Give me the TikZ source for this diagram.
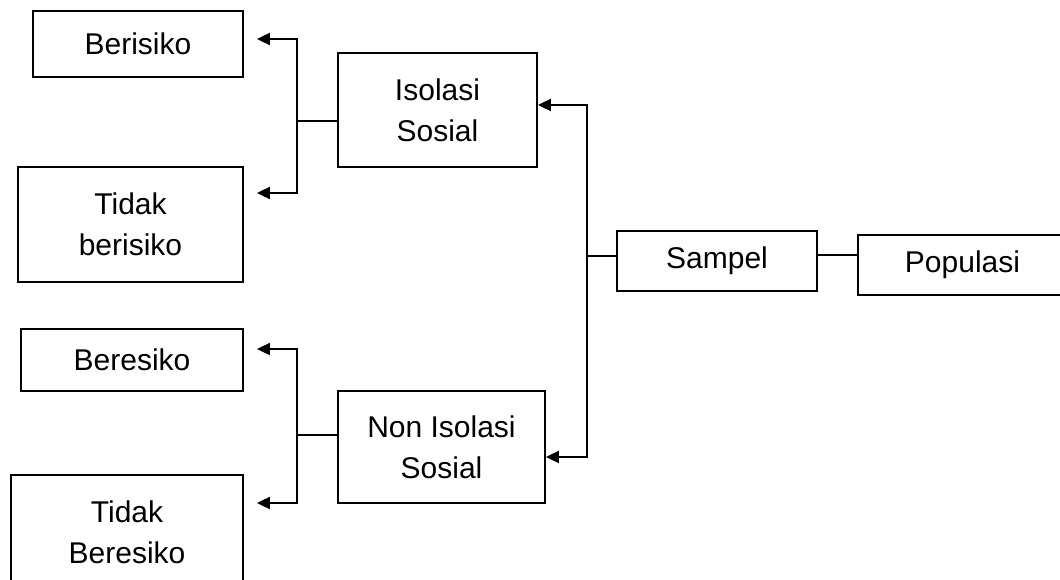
\documentclass[tikz,border=0pt]{standalone}
\usepackage{fontspec}
\setmainfont{Liberation Sans}
\usetikzlibrary{arrows.meta}

\begin{document}
\begin{tikzpicture}[x=1pt,y=-1pt,
  box/.style={draw, line width=1.8pt, rectangle, inner sep=0pt, align=center,
              font=\fontsize{30}{41}\selectfont},
  link/.style={line width=1.8pt},
  arr/.style={line width=1.8pt, -{Triangle[length=13pt,width=12pt]}},
  gaparr/.style={arr, shorten >=13pt}]
  \clip (0,0) rectangle (1060,580);

  % outcome boxes
  \node[box, minimum width=210pt, minimum height=66pt]  (ber1) at (138,44)    {Berisiko};
  \node[box, minimum width=225pt, minimum height=115pt] (tb1)  at (130.5,224.5) {Tidak\\berisiko};
  \node[box, minimum width=222pt, minimum height=62pt]  (ber2) at (132,360)   {Beresiko};
  \node[box, minimum width=232pt, minimum height=114pt] (tb2)  at (127,532)   {Tidak\\Beresiko};

  % groups
  \node[box, minimum width=199pt, minimum height=114pt] (iso)  at (437.5,110) {Isolasi\\Sosial};
  \node[box, minimum width=207pt, minimum height=112pt] (non)  at (441.5,447) {Non Isolasi\\Sosial};

  % sample and population
  \node[box, minimum width=200pt, minimum height=60pt]  (samp) at (717,261)   {Sampel};
  \node[box, minimum width=209pt, minimum height=60pt]  (pop)  at (962.5,265) {Populasi};

  % junction points
  \coordinate (jr)  at (587,256);
  \coordinate (jl1) at (297,121);
  \coordinate (jl2) at (297,435);

  % population -- sample
  \draw[link] ([yshift=6pt]samp.east) -- ([yshift=6pt]samp.east -| pop.west);

  % sample to the two groups
  \draw[link] ([yshift=5pt]samp.west) -- (jr);
  \draw[arr] (jr) |- ([yshift=5pt]iso.east);
  \draw[arr] (jr) |- ([yshift=-10pt]non.east);

  % isolasi sosial branches
  \draw[link] ([yshift=-11pt]iso.west) -- (jl1);
  \draw[gaparr] (jl1) |- ([yshift=5pt]ber1.east);
  \draw[gaparr] (jl1) |- ([yshift=31.5pt]tb1.east);

  % non isolasi sosial branches
  \draw[link] ([yshift=12pt]non.west) -- (jl2);
  \draw[gaparr] (jl2) |- ([yshift=11pt]ber2.east);
  \draw[gaparr] (jl2) |- ([yshift=29pt]tb2.east);
\end{tikzpicture}
\end{document}
